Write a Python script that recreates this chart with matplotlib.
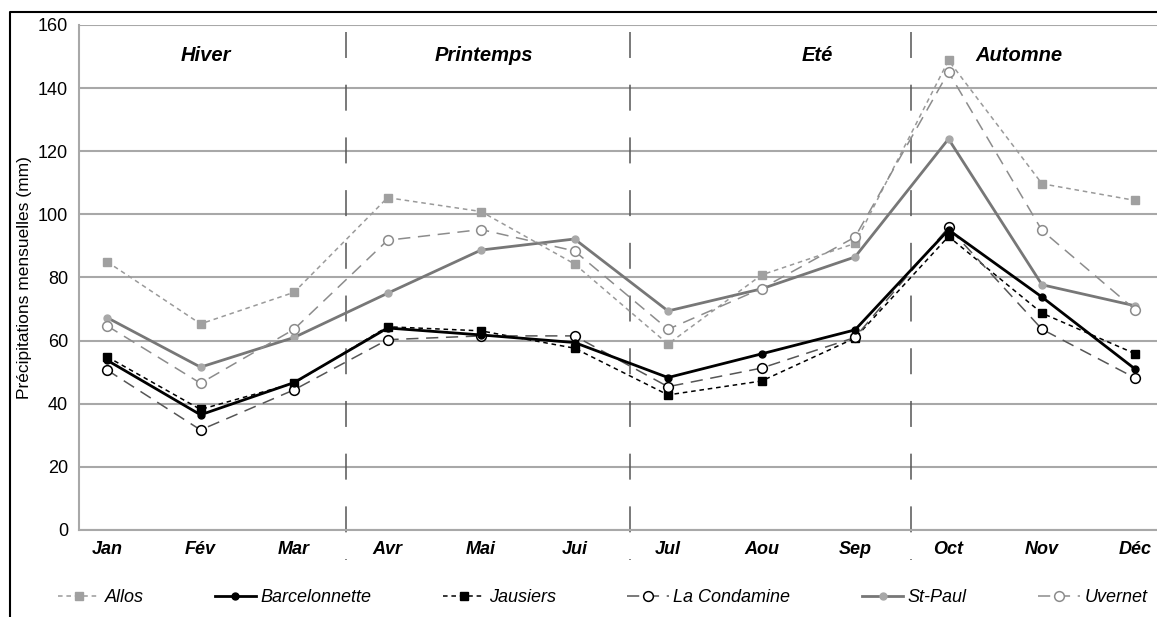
import matplotlib
matplotlib.use("Agg")
import matplotlib.pyplot as plt
from matplotlib.lines import Line2D

plt.rcParams['font.family'] = ['Liberation Sans', 'DejaVu Sans']

mois = ['Jan', 'Fév', 'Mar', 'Avr', 'Mai', 'Jui', 'Jul', 'Aou', 'Sep', 'Oct', 'Nov', 'Déc']
saisons = ['Hiver', 'Printemps', 'Eté', 'Automne']

allos = [85.0, 65.3, 75.3, 105.3, 100.9, 84.3, 58.9, 80.8, 90.8, 148.8, 109.7, 104.4]
barcelonnette = [53.8, 36.5, 46.7, 64.0, 61.8, 59.4, 48.3, 55.8, 63.4, 95.1, 73.8, 50.9]
jausiers = [54.9, 38.2, 46.5, 64.4, 63.1, 57.6, 42.8, 47.2, 60.8, 93.0, 68.7, 55.8]
la_condamine = [50.7, 31.7, 44.4, 60.3, 61.5, 61.5, 45.4, 51.3, 61.0, 95.9, 63.6, 48.1]
st_paul = [67.3, 51.6, 61.0, 75.0, 88.7, 92.2, 69.4, 76.4, 86.5, 123.9, 77.7, 71.0]
uvernet = [64.7, 46.5, 63.6, 91.8, 95.2, 88.4, 63.6, 76.5, 92.8, 145.1, 94.9, 69.7]

x = range(len(mois))

fig = plt.figure(figsize=(11.57, 6.17), dpi=100)
ax = fig.add_axes([79 / 1157, 1 - 530 / 617, 1 - 79 / 1157, 505 / 617])

ax.plot(x, allos, color='#9a9a9a', lw=1.1, ls=(0, (3, 2.5)), marker='s', ms=6,
        mfc='#a0a0a0', mec='#a0a0a0', label='Allos', zorder=3)
ax.plot(x, barcelonnette, color='black', lw=2, ls='-', marker='o', ms=5,
        mfc='black', mec='black', label='Barcelonnette', zorder=5)
ax.plot(x, jausiers, color='black', lw=1.1, ls=(0, (3, 2.5)), marker='s', ms=6,
        mfc='black', mec='black', label='Jausiers', zorder=4)
ax.plot(x, la_condamine, color='#555555', lw=1.1, ls=(0, (8, 5)), marker='o', ms=7,
        mfc='white', mec='black', mew=1.1, label='La Condamine', zorder=4)
ax.plot(x, st_paul, color='#777777', lw=2, ls='-', marker='o', ms=5,
        mfc='#a8a8a8', mec='#a8a8a8', label='St-Paul', zorder=3)
ax.plot(x, uvernet, color='#8c8c8c', lw=1.1, ls=(0, (8, 5)), marker='o', ms=7,
        mfc='white', mec='#8c8c8c', mew=1.1, label='Uvernet', zorder=3)

ax.set_xlim(-0.3, 11.23)
ax.set_ylim(0, 160)
ax.set_yticks(range(0, 161, 20))
ax.set_xticks(list(x))
ax.set_xticklabels(mois, fontsize=13, fontweight='bold', fontstyle='italic')
ax.tick_params(axis='y', length=0, pad=8, labelsize=13)
ax.tick_params(axis='x', length=0, pad=8)
ax.grid(axis='y', color='#a8a8a8', lw=1.5)
ax.set_axisbelow(True)
for s in ['top', 'right']:
    ax.spines[s].set_visible(False)
for s in ['left', 'bottom']:
    ax.spines[s].set_color('#a8a8a8')
    ax.spines[s].set_linewidth(1.5)
ax.set_ylabel('Précipitations mensuelles (mm)', fontsize=12.5, labelpad=4)

# séparations des saisons
for xd in [2.555, 5.595, 8.6]:
    ax.plot([xd, xd], [0.986, -0.06], transform=ax.get_xaxis_transform(),
            color='#555555', lw=1.1, ls=(0, (17, 17.5)), clip_on=False, zorder=2)

for xs, nom in zip([1.06, 4.03, 7.6, 9.75], saisons):
    ax.text(xs, 0.94, nom, transform=ax.get_xaxis_transform(), ha='center', va='center',
            fontsize=14.5, fontweight='bold', fontstyle='italic')

fig.legend(loc='center', bbox_to_anchor=(0.521, 0.031), ncol=6, frameon=False,
           prop={'style': 'italic', 'size': 13}, handlelength=2.3, handletextpad=0.25,
           columnspacing=3.95, borderpad=0)

# cadre
fig.add_artist(Line2D([10 / 1157, 10 / 1157, 1], [0, 1 - 12 / 617, 1 - 12 / 617],
                      color='black', lw=1.5, transform=fig.transFigure))

fig.savefig('out.png', dpi=100)
